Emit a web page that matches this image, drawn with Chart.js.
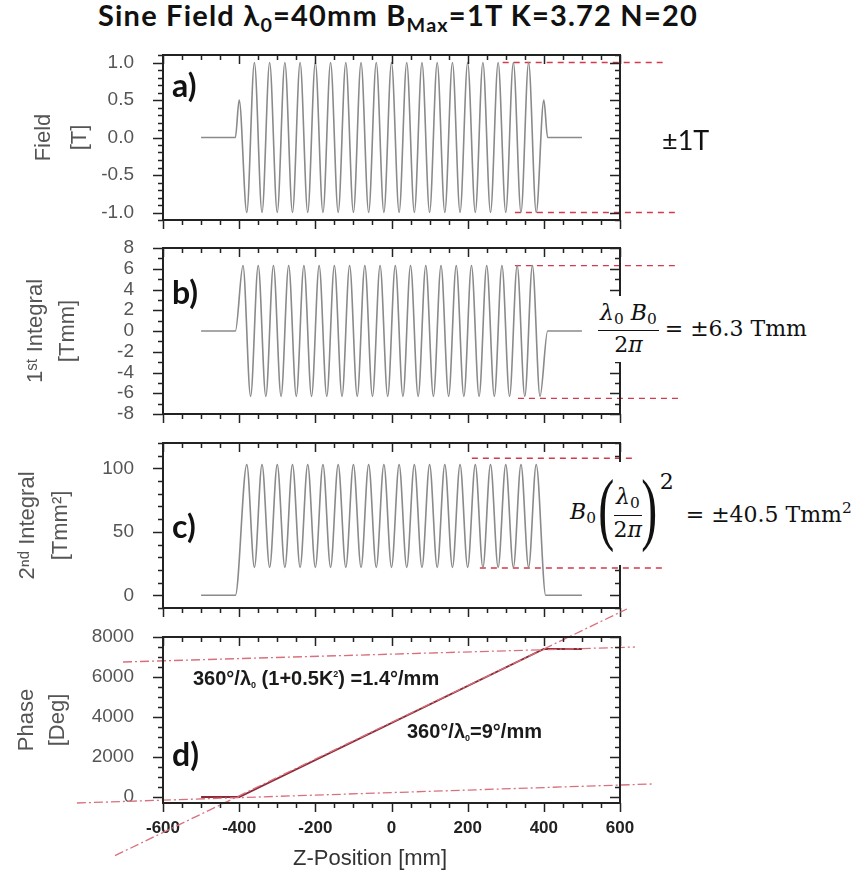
<!DOCTYPE html>
<html>
<head>
<meta charset="utf-8">
<script src="https://cdn.jsdelivr.net/npm/chart.js@4/dist/chart.umd.min.js"></script>
<style>
  body { margin: 0; background: #fff; width: 863px; height: 872px; position: relative; overflow: hidden; font-family: "Liberation Sans", Arial, sans-serif; }
  canvas { position: absolute; left: 0; }
  .t { position: absolute; white-space: nowrap; line-height: 1; }
  .lbl { font: bold 32px Lato, sans-serif; color: #111; }
  .ser { font-family: "DejaVu Serif", serif; font-size: 22px; color: #111; display: flex; align-items: center; background: #fff; padding: 6px 4px; }
  .frac { display: inline-flex; flex-direction: column; align-items: center; }
  .num { border-bottom: 1.5px solid #111; padding: 0 2px 3px 2px; }
  .den { padding-top: 3px; }
  .ser sub { font-size: 0.7em; vertical-align: -0.25em; }
  .par { font: 80px "Liberation Serif", serif; display: inline-block; transform: scaleX(0.6); margin: 0 -6px; position: relative; top: -5px; }
  .ph { font: bold 20px "Liberation Sans", Arial, sans-serif; color: #1a1a1a; }
  .ph sub { font-size: 0.45em; vertical-align: -0.35em; }
  .ph sup { font-size: 0.45em; vertical-align: 0.9em; }
</style>
</head>
<body>
<div class="t" style="left:98px;top:-3px;font:bold 29px Lato,sans-serif;letter-spacing:1.2px;color:#111;">Sine Field &lambda;<sub style="font-size:0.68em;vertical-align:-0.3em">0</sub>=40mm B<sub style="font-size:0.68em;vertical-align:-0.3em">Max</sub>=1T K=3.72 N=20</div>

<canvas id="pa" width="863" height="194" style="top:40px"></canvas>
<canvas id="pb" width="863" height="195" style="top:233px"></canvas>
<canvas id="pc" width="863" height="194" style="top:428px"></canvas>
<canvas id="pd" width="863" height="272" style="top:600px"></canvas>

<div class="t lbl" style="left:172px;top:65px">a)</div>
<div class="t lbl" style="left:172px;top:272px">b)</div>
<div class="t lbl" style="left:172px;top:506px">c)</div>
<div class="t lbl" style="left:172px;top:734px">d)</div>

<div class="t" style="left:662px;top:123px;font:27px Lato,sans-serif;color:#111;">&plusmn;1T</div>

<div class="t ser" style="left:594px;top:296px">
  <span class="frac" style="margin-right:6px"><span class="num"><i>&lambda;</i><sub>0</sub> <i>B</i><sub>0</sub></span><span class="den">2<i>&pi;</i></span></span>
  <span>= &plusmn;6.3 Tmm</span>
</div>

<div class="t ser" style="left:566px;top:462px">
  <span><i>B</i><sub>0</sub></span>
  <span class="par" style="margin-left:-3px">(</span>
  <span class="frac"><span class="num"><i>&lambda;</i><sub>0</sub></span><span class="den">2<i>&pi;</i></span></span>
  <span class="par">)</span>
  <span style="position:relative;top:-32px;margin-right:12px;margin-left:3px">2</span>
  <span>= &plusmn;40.5 Tmm<sup style="font-size:0.7em;vertical-align:0.6em">2</sup></span>
</div>

<div class="t ph" style="left:193px;top:667px">360&deg;/&lambda;<sub>0</sub> (1+0.5K<sup>2</sup>) =1.4&deg;/mm</div>
<div class="t ph" style="left:407px;top:720px">360&deg;/&lambda;<sub>0</sub>=9&deg;/mm</div>

<div class="t" style="left:293px;top:845px;font:22px 'Liberation Sans',Arial,sans-serif;color:#333;">Z-Position [mm]</div>

<script>
// a) field along z [T]
const fieldZ = [-500, -410, -400, -380, -360, -340, -320, -300, -280, -260, -240, -220, -200, -180, -160, -140, -120, -100, -80, -60, -40, -20,
  0, 20, 40, 60, 80, 100, 120, 140, 160, 180, 200, 220, 240, 260, 280, 300, 320, 340, 360, 380, 400, 410, 500];
const fieldB = [0, 0, 0.5, -1, 1, -1, 1, -1, 1, -1, 1, -1, 1, -1, 1, -1, 1, -1, 1, -1, 1, -1,
  1, -1, 1, -1, 1, -1, 1, -1, 1, -1, 1, -1, 1, -1, 1, -1, 1, -1, 1, -1, 0.5, 0, 0];

// b) first integral [Tmm]
const int1Z = [-500, -410, -390, -370, -350, -330, -310, -290, -270, -250, -230, -210, -190, -170, -150, -130, -110, -90, -70, -50, -30, -10,
  10, 30, 50, 70, 90, 110, 130, 150, 170, 190, 210, 230, 250, 270, 290, 310, 330, 350, 370, 390, 410, 500];
const int1 = [0, 0, 6.3, -6.3, 6.3, -6.3, 6.3, -6.3, 6.3, -6.3, 6.3, -6.3, 6.3, -6.3, 6.3, -6.3, 6.3, -6.3, 6.3, -6.3, 6.3, -6.3,
  6.3, -6.3, 6.3, -6.3, 6.3, -6.3, 6.3, -6.3, 6.3, -6.3, 6.3, -6.3, 6.3, -6.3, 6.3, -6.3, 6.3, -6.3, 6.3, -6.3, 0, 0];

// c) second integral [Tmm^2]
const int2Z = [-500, -410, -380, -360, -340, -320, -300, -280, -260, -240, -220, -200, -180, -160, -140, -120, -100, -80, -60, -40, -20,
  0, 20, 40, 60, 80, 100, 120, 140, 160, 180, 200, 220, 240, 260, 280, 300, 320, 340, 360, 380, 405, 500];
const int2 = [0, 0, 103, 22, 103, 22, 103, 22, 103, 22, 103, 22, 103, 22, 103, 22, 103, 22, 103, 22, 103,
  22, 103, 22, 103, 22, 103, 22, 103, 22, 103, 22, 103, 22, 103, 22, 103, 22, 103, 22, 103, 0, 0];

// d) phase [deg]
const phaseZ = [-500, -400, 400, 500];
const phase = [0, 0, 7400, 7400];

// red guide lines, end points
const guideA = { top: [[292, 712], [1, 1]], bottom: [[324, 744], [-1, -1]] };
const guideB = { top: [[324, 744], [6.3, 6.3]], bottom: [[332, 765], [-6.5, -6.5]] };
const guideC = { top: [[211, 639], [108, 108]], bottom: [[232, 712], [21.5, 21.5]] };
const slowLineZ = [-705, 639], slowLine = [6750, 7500];
const baseLineZ = [-826, 683], baseLine = [-300, 650];
const fastLineZ = [-726, 618], fastLine = [-2930, 9400];

const xTicks = [-600, -400, -200, 0, 200, 400, 600];

function pts(xs, ys) {
  return xs.map((x, i) => ({ x: x, y: ys[i] }));
}

function isMajor(v, major) {
  const r = v / major;
  return Math.abs(r - Math.round(r)) < 1e-6;
}

// tick values every `step` inside the axis range
function stepTicks(scale, step) {
  const out = [];
  for (let k = Math.ceil(scale.min / step - 1e-9); k * step <= scale.max + 1e-9; k++) {
    out.push({ value: Math.round(k * step * 1000) / 1000 });
  }
  scale.ticks = out;
}

const frameTicks = {
  id: 'frameTicks',
  afterDraw(chart, args, opts) {
    const ctx = chart.ctx;
    const a = chart.chartArea;
    const x = chart.scales.x, y = chart.scales.y;
    ctx.save();
    ctx.strokeStyle = '#222';
    ctx.lineWidth = 1.5;
    ctx.beginPath();
    x.ticks.forEach(t => {
      const px = Math.round(x.getPixelForValue(t.value)) + 0.5;
      const len = isMajor(t.value, 200) ? 9 : 5;
      ctx.moveTo(px, a.bottom); ctx.lineTo(px, a.bottom + len);
      ctx.moveTo(px, a.top); ctx.lineTo(px, a.top + len);
    });
    y.ticks.forEach(t => {
      const py = Math.round(y.getPixelForValue(t.value)) + 0.5;
      const len = isMajor(t.value, opts.major) ? 10 : 5;
      ctx.moveTo(a.left - len, py); ctx.lineTo(a.left, py);
      ctx.moveTo(a.right - len, py); ctx.lineTo(a.right, py);
    });
    ctx.stroke();
    ctx.lineWidth = 2;
    ctx.strokeRect(a.left, a.top, a.right - a.left, a.bottom - a.top);
    ctx.restore();
  }
};

function curve(data, color, width, dash, clip, straight) {
  return {
    data: data,
    showLine: true,
    pointRadius: 0,
    borderColor: color,
    borderWidth: width,
    borderDash: dash || [],
    cubicInterpolationMode: straight ? 'default' : 'monotone',
    tension: 0,
    clip: clip ? undefined : false
  };
}

// invisible tick marks only push the labels away from the frame
const hiddenGrid = len => ({
  display: true, drawOnChartArea: false, drawTicks: true, tickLength: len,
  color: 'rgba(0,0,0,0)', tickColor: 'rgba(0,0,0,0)'
});

function makePanel(id, p) {
  new Chart(document.getElementById(id), {
    type: 'scatter',
    data: { datasets: p.datasets },
    options: {
      responsive: false,
      animation: false,
      events: [],
      layout: { padding: { left: 0, right: 243, top: p.padTop, bottom: 0 } },
      plugins: { legend: { display: false }, tooltip: { enabled: false }, frameTicks: { major: p.major } },
      scales: {
        x: {
          type: 'linear', min: -600, max: 600,
          grid: hiddenGrid(15),
          border: { display: false },
          afterBuildTicks: s => stepTicks(s, 50),
          ticks: {
            autoSkip: false, maxRotation: 0, padding: 0,
            color: '#222', font: { family: 'Liberation Sans', size: 17, weight: 'bold' },
            callback: v => (p.showX && xTicks.includes(v)) ? String(v) : ''
          },
          afterFit: s => { s.height = p.xHeight; }
        },
        y: {
          type: 'linear', min: p.min, max: p.max,
          grid: hiddenGrid(29),
          border: { display: false },
          afterBuildTicks: s => stepTicks(s, p.step),
          ticks: {
            autoSkip: false, padding: 0,
            color: '#555', font: { family: 'Liberation Sans', size: 19 },
            callback: v => isMajor(v, p.major) ? p.fmt(v) : ''
          },
          title: {
            display: true, text: p.title, color: '#555',
            font: { family: 'Liberation Sans', size: 22, lineHeight: p.lh + 'px' },
            padding: { top: p.tpad, bottom: 0 }
          },
          afterFit: s => { s.width = 163; }
        }
      }
    },
    plugins: [frameTicks]
  });
}

const gray = '#8a8a8a';
const red = '#d23a4e';
const pale = '#d9707e';

makePanel('pa', {
  min: -1.1, max: 1.1, step: 0.1, major: 0.5, fmt: v => v.toFixed(1),
  title: ['Field', '[T]'], lh: 36, tpad: 26, padTop: 15, xHeight: 14,
  datasets: [
    curve(pts(fieldZ, fieldB), gray, 1.6, null, true),
    curve(pts(guideA.top[0], guideA.top[1]), red, 1.3, [6, 5]),
    curve(pts(guideA.bottom[0], guideA.bottom[1]), red, 1.3, [6, 5])
  ]
});

makePanel('pb', {
  min: -8, max: 8, step: 1, major: 2, fmt: v => String(v),
  title: ['1\u02E2\u1D57 Integral', '[Tmm]'], lh: 32, tpad: 20, padTop: 15, xHeight: 14,
  datasets: [
    curve(pts(int1Z, int1), gray, 1.6, null, true),
    curve(pts(guideB.top[0], guideB.top[1]), red, 1.3, [6, 5]),
    curve(pts(guideB.bottom[0], guideB.bottom[1]), red, 1.3, [6, 5])
  ]
});

makePanel('pc', {
  min: -10, max: 120, step: 10, major: 50, fmt: v => String(v),
  title: ['2\u207F\u1D48 Integral', '[Tmm\u00B2]'], lh: 33, tpad: 11, padTop: 15, xHeight: 14,
  datasets: [
    curve(pts(int2Z, int2), gray, 1.6, null, true),
    curve(pts(guideC.top[0], guideC.top[1]), red, 1.3, [6, 5]),
    curve(pts(guideC.bottom[0], guideC.bottom[1]), red, 1.3, [6, 5])
  ]
});

makePanel('pd', {
  min: -300, max: 8000, step: 500, major: 2000, fmt: v => String(v),
  title: ['Phase', '[Deg]'], lh: 31, tpad: 11.5, padTop: 37, xHeight: 69, showX: true,
  datasets: [
    curve(pts(slowLineZ, slowLine), pale, 1.3, [9, 3, 2, 3], false, true),
    curve(pts(baseLineZ, baseLine), pale, 1.3, [9, 3, 2, 3], false, true),
    curve(pts(fastLineZ, fastLine), pale, 1.3, [9, 3, 2, 3], false, true),
    curve(pts(phaseZ, phase), '#8a2a36', 1.8, null, true, true)
  ]
});
</script>
</body>
</html>
